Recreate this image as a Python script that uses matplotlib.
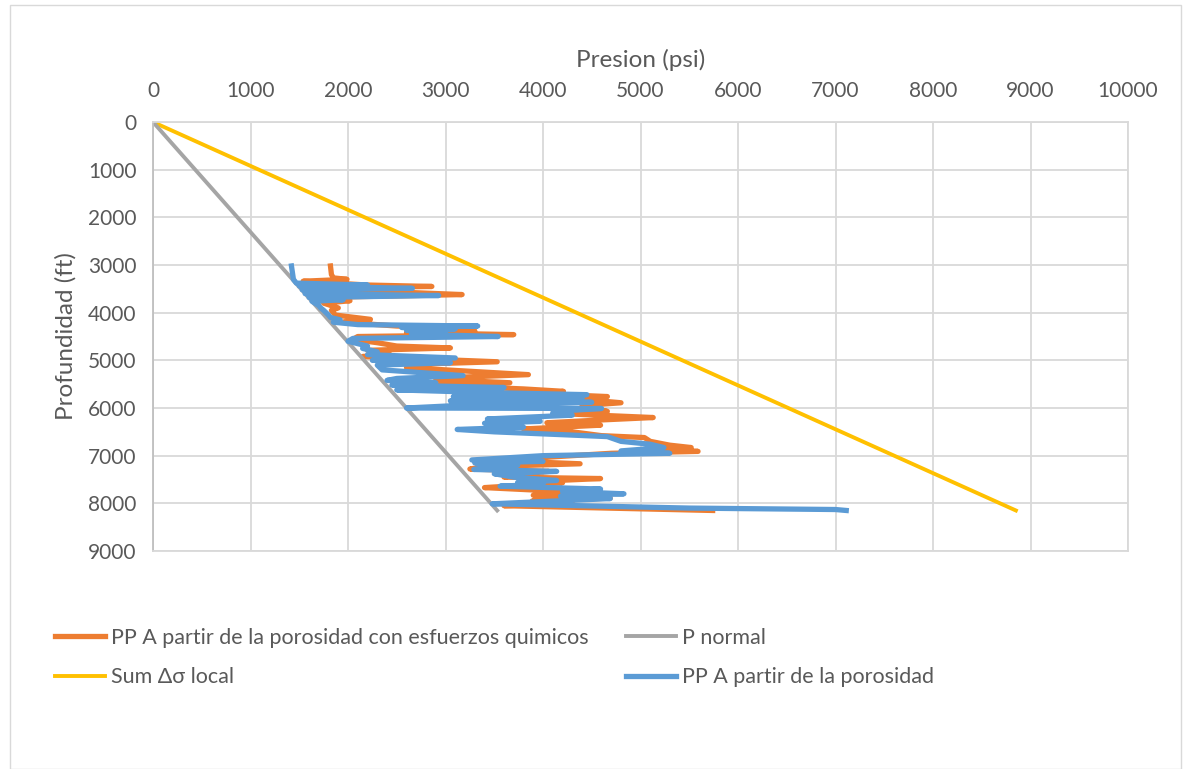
import matplotlib
matplotlib.use("Agg")
import matplotlib.pyplot as plt
from matplotlib.patches import Rectangle

# profundidad (ft) / presion (psi)
prof_azul = [3020, 3300, 3380, 3420, 3440, 3490, 3520, 3560, 3600, 3640, 3680, 3730, 3760, 3850,
             3900, 3950, 4050, 4100, 4150, 4200, 4250, 4280, 4310, 4340, 4370, 4420, 4450, 4500,
             4540, 4600, 4650, 4700, 4750, 4820, 4880, 4950, 5000, 5050, 5100, 5200, 5320, 5380,
             5420, 5470, 5520, 5570, 5620, 5680, 5720, 5760, 5800, 5850, 5880, 5950, 6000, 6010,
             6060, 6100, 6150, 6230, 6280, 6320, 6400, 6450, 6500, 6560, 6600, 6700, 6760, 6830,
             6900, 6950, 7000, 7090, 7120, 7150, 7200, 7250, 7290, 7330, 7380, 7450, 7520, 7560,
             7600, 7640, 7700, 7750, 7800, 7850, 7900, 7950, 8010, 8100, 8130, 8150]
pp_azul = [1420, 1440, 1470, 2200, 1500, 2660, 1530, 2000, 1560, 2930, 1600, 1950, 1630, 1700,
           1720, 1750, 1800, 1820, 1920, 1850, 2100, 3330, 2550, 3100, 2600, 3000, 2650, 3540,
           2050, 2000, 2100, 2200, 2150, 2300, 2200, 3100, 2250, 3050, 2300, 2350, 3180, 2500,
           2400, 2900, 2450, 3600, 2500, 3500, 4450, 3080, 4400, 3050, 4500, 3100, 2600, 4600,
           4200, 4100, 4300, 3430, 3970, 3400, 3800, 3120, 3500, 4200, 4660, 4800, 5100, 5240,
           4800, 5300, 4000, 3270, 4000, 3300, 3740, 3400, 3290, 4140, 3500, 3700, 4140, 3740,
           4000, 3560, 4590, 4200, 4830, 4180, 4690, 4150, 3480, 5500, 7000, 7110]

prof_naranja = [3020, 3200, 3270, 3300, 3340, 3420, 3450, 3480, 3550, 3620, 3680, 3750, 3800, 3900,
                3950, 4000, 4050, 4140, 4200, 4280, 4320, 4380, 4420, 4460, 4500, 4560, 4630, 4700,
                4740, 4790, 4880, 4920, 5030, 5080, 5150, 5200, 5300, 5350, 5400, 5470, 5520, 5600,
                5650, 5700, 5760, 5800, 5890, 5950, 6000, 6070, 6120, 6200, 6250, 6310, 6360, 6440,
                6500, 6580, 6620, 6700, 6780, 6830, 6880, 6910, 6950, 7000, 7100, 7170, 7230, 7280,
                7330, 7380, 7450, 7480, 7530, 7570, 7620, 7670, 7720, 7780, 7830, 7890, 7950, 8000,
                8050, 8150]
pp_naranja = [1820, 1830, 1850, 1990, 1540, 2200, 2860, 1600, 2300, 3170, 1700, 2020, 1750, 1900,
              1830, 1850, 1870, 2230, 1950, 2500, 3100, 3300, 2600, 3700, 2100, 2050, 2300, 2500,
              3050, 2200, 2430, 2150, 3530, 2700, 2600, 3000, 3850, 3200, 2900, 3660, 2840, 3800,
              4210, 3970, 4660, 4300, 4800, 4400, 4500, 4660, 4210, 5130, 4600, 4040, 4590, 3800,
              4300, 4600, 5040, 5100, 5300, 5520, 5000, 5590, 4700, 4300, 3500, 4380, 3400, 3250,
              4060, 3800, 3600, 4590, 4040, 4200, 3800, 3400, 3900, 4200, 3900, 4690, 3890, 4300,
              3600, 5740]

prof_normal = [0, 8150]
p_normal = [0, 3530]
prof_sum = [0, 8150]
p_sum = [0, 8850]

plt.rcParams['font.family'] = ['Lato', 'DejaVu Sans']
gris_txt = "#595959"

fig = plt.figure(figsize=(11.88, 7.69), dpi=100)
ax = fig.add_axes([0.1288, 0.2835, 0.8207, 0.5578])

ax.plot(pp_naranja, prof_naranja, color="#ED7D31", lw=3.8, solid_joinstyle="round",
        label="PP A partir de la porosidad con esfuerzos quimicos")
ax.plot(p_sum, prof_sum, color="#FFC000", lw=2.8, label="Sum \u0394\u03c3 local")
ax.plot(p_normal, prof_normal, color="#A5A5A5", lw=2.8, label="P normal")
ax.plot(pp_azul, prof_azul, color="#5B9BD5", lw=3.8, solid_joinstyle="round",
        label="PP A partir de la porosidad")

ax.set_xlim(0, 10000)
ax.set_ylim(9000, 0)
ax.set_xticks(range(0, 10001, 1000))
ax.set_yticks(range(0, 9001, 1000))
ax.xaxis.tick_top()
ax.xaxis.set_label_position("top")
ax.tick_params(length=0, labelsize=15, colors=gris_txt, pad=15)
ax.tick_params(axis="y", pad=12)
ax.grid(True, color="#D9D9D9", lw=1.3)
ax.set_axisbelow(True)
for s in ax.spines.values():
    s.set_color("#D9D9D9")
    s.set_linewidth(1.3)
ax.spines["left"].set_color("#BFBFBF")

ax.set_xlabel("Presion (psi)", fontsize=17.5, color=gris_txt, labelpad=10)
ax.set_ylabel("Profundidad (ft)", fontsize=17.5, color=gris_txt, labelpad=8)

h, l = ax.get_legend_handles_labels()
fig.legend(h, l, ncol=2, frameon=False,
           loc="upper left", bbox_to_anchor=(0.030, 0.209), bbox_transform=fig.transFigure,
           fontsize=15.5, labelcolor=gris_txt, handlelength=2.3, handletextpad=0.3,
           columnspacing=1.75, labelspacing=0.92)

fig.add_artist(Rectangle((0.008, 0.0), 0.986, 0.993, transform=fig.transFigure,
                         fill=False, edgecolor="#D9D9D9", lw=1))

fig.savefig("out.png", dpi=100)
